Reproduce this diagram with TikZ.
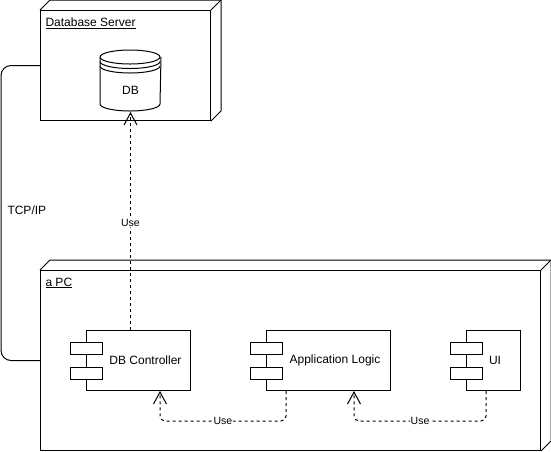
\documentclass[tikz,border=0pt]{standalone}
\usepackage{fontspec}
\setmainfont{Liberation Sans}
\usetikzlibrary{arrows.meta}
\tikzset{
    devicebox/.style={rectangle, draw, inner sep=0pt},
    compbody/.style={rectangle, draw, fill=white, inner sep=0pt, minimum height=60},
    portbox/.style={rectangle, draw, fill=white, inner sep=0pt, minimum width=32, minimum height=12},
    titletext/.style={anchor=west, inner sep=0pt, font=\fontsize{12}{14}\selectfont},
    usedep/.style={dash pattern=on 3pt off 3pt, -{Straight Barb[length=12pt, width=13pt]}, rounded corners=5},
    uselabel/.style={fill=white, inner sep=0.5pt, font=\fontsize{10.5}{12}\selectfont}
}
\newcommand{\depthlines}[1]{
    \draw (#1.north west) -- ++(10,-10) -- ([xshift=10,yshift=10]#1.north east)
          -- ([xshift=10,yshift=10]#1.south east) -- (#1.south east);
    \draw (#1.north east) -- ++(10,-10);
}
\begin{document}
\begin{tikzpicture}[x=1pt, y=-1pt, line width=1pt,
    every node/.style={font=\fontsize{12}{14}\selectfont}
]
\useasboundingbox (0,0) rectangle (551,451);

% devices
\node[devicebox, minimum width=170, minimum height=110] (dbserver) at (125.5,65.5) {};
\node[devicebox, minimum width=500, minimum height=180] (pc) at (290.5,360.5) {};
\depthlines{dbserver}
\depthlines{pc}
\node[titletext] (dbservertitle) at ([xshift=5,yshift=-13]dbserver.north west) {\underline{Database Server}};
\node[titletext] (pctitle) at ([xshift=5,yshift=-13]pc.north west) {\underline{a PC}};

% database
\node[inner sep=0pt, minimum width=60, minimum height=60] (db) at (130.5,80.5) {};
\draw ([yshift=-7]db.north west) arc[start angle=180, end angle=-180, x radius=30, y radius=7];
\draw ([yshift=-7]db.north west) -- ([yshift=7]db.south west)
      arc[start angle=180, end angle=0, x radius=30, y radius=7] -- ([yshift=-7]db.north east);
\draw ([yshift=-11.5]db.north west) arc[start angle=180, end angle=0, x radius=30, y radius=7];
\draw ([yshift=-16]db.north west) arc[start angle=180, end angle=0, x radius=30, y radius=7];
\node (dbtext) at (130.5,90) {DB};

% components
\node[compbody, minimum width=104] (dbctrl) at (138.5,360.5) {};
\node[compbody, minimum width=124] (applogic) at (328.5,360.5) {};
\node[compbody, minimum width=54] (ui) at (493.5,360.5) {};
\foreach \c in {dbctrl, applogic, ui} {
    \node[portbox] (\c a) at ([yshift=-18]\c.north west) {};
    \node[portbox] (\c b) at ([yshift=18]\c.south west) {};
}
\node (dbctrltext) at (145.5,360) {DB Controller};
\node (applogictext) at (335,360) {Application Logic};
\node (uitext) at (495,360) {UI};

% links
\draw[rounded corners=10] (dbserver.west) -- ++(-39,0) |- (pc.west) node[pos=0.25, right=6pt, yshift=3pt, inner sep=0pt] (tcp) {TCP/IP};
\draw[usedep] (dbctrl.north -| db.south) -- node[uselabel, pos=0.49] (use1) {Use} ([yshift=-1]db.south);
\draw[usedep] ([xshift=20]applogic.south west) -- ++(0,30) -| node[uselabel, pos=0.25] (use2) {Use} ([xshift=74]dbctrl.south west);
\draw[usedep] ([xshift=20]ui.south west) -- ++(0,30) -| node[uselabel, pos=0.25] (use3) {Use} ([xshift=88]applogic.south west);
\end{tikzpicture}
\end{document}
